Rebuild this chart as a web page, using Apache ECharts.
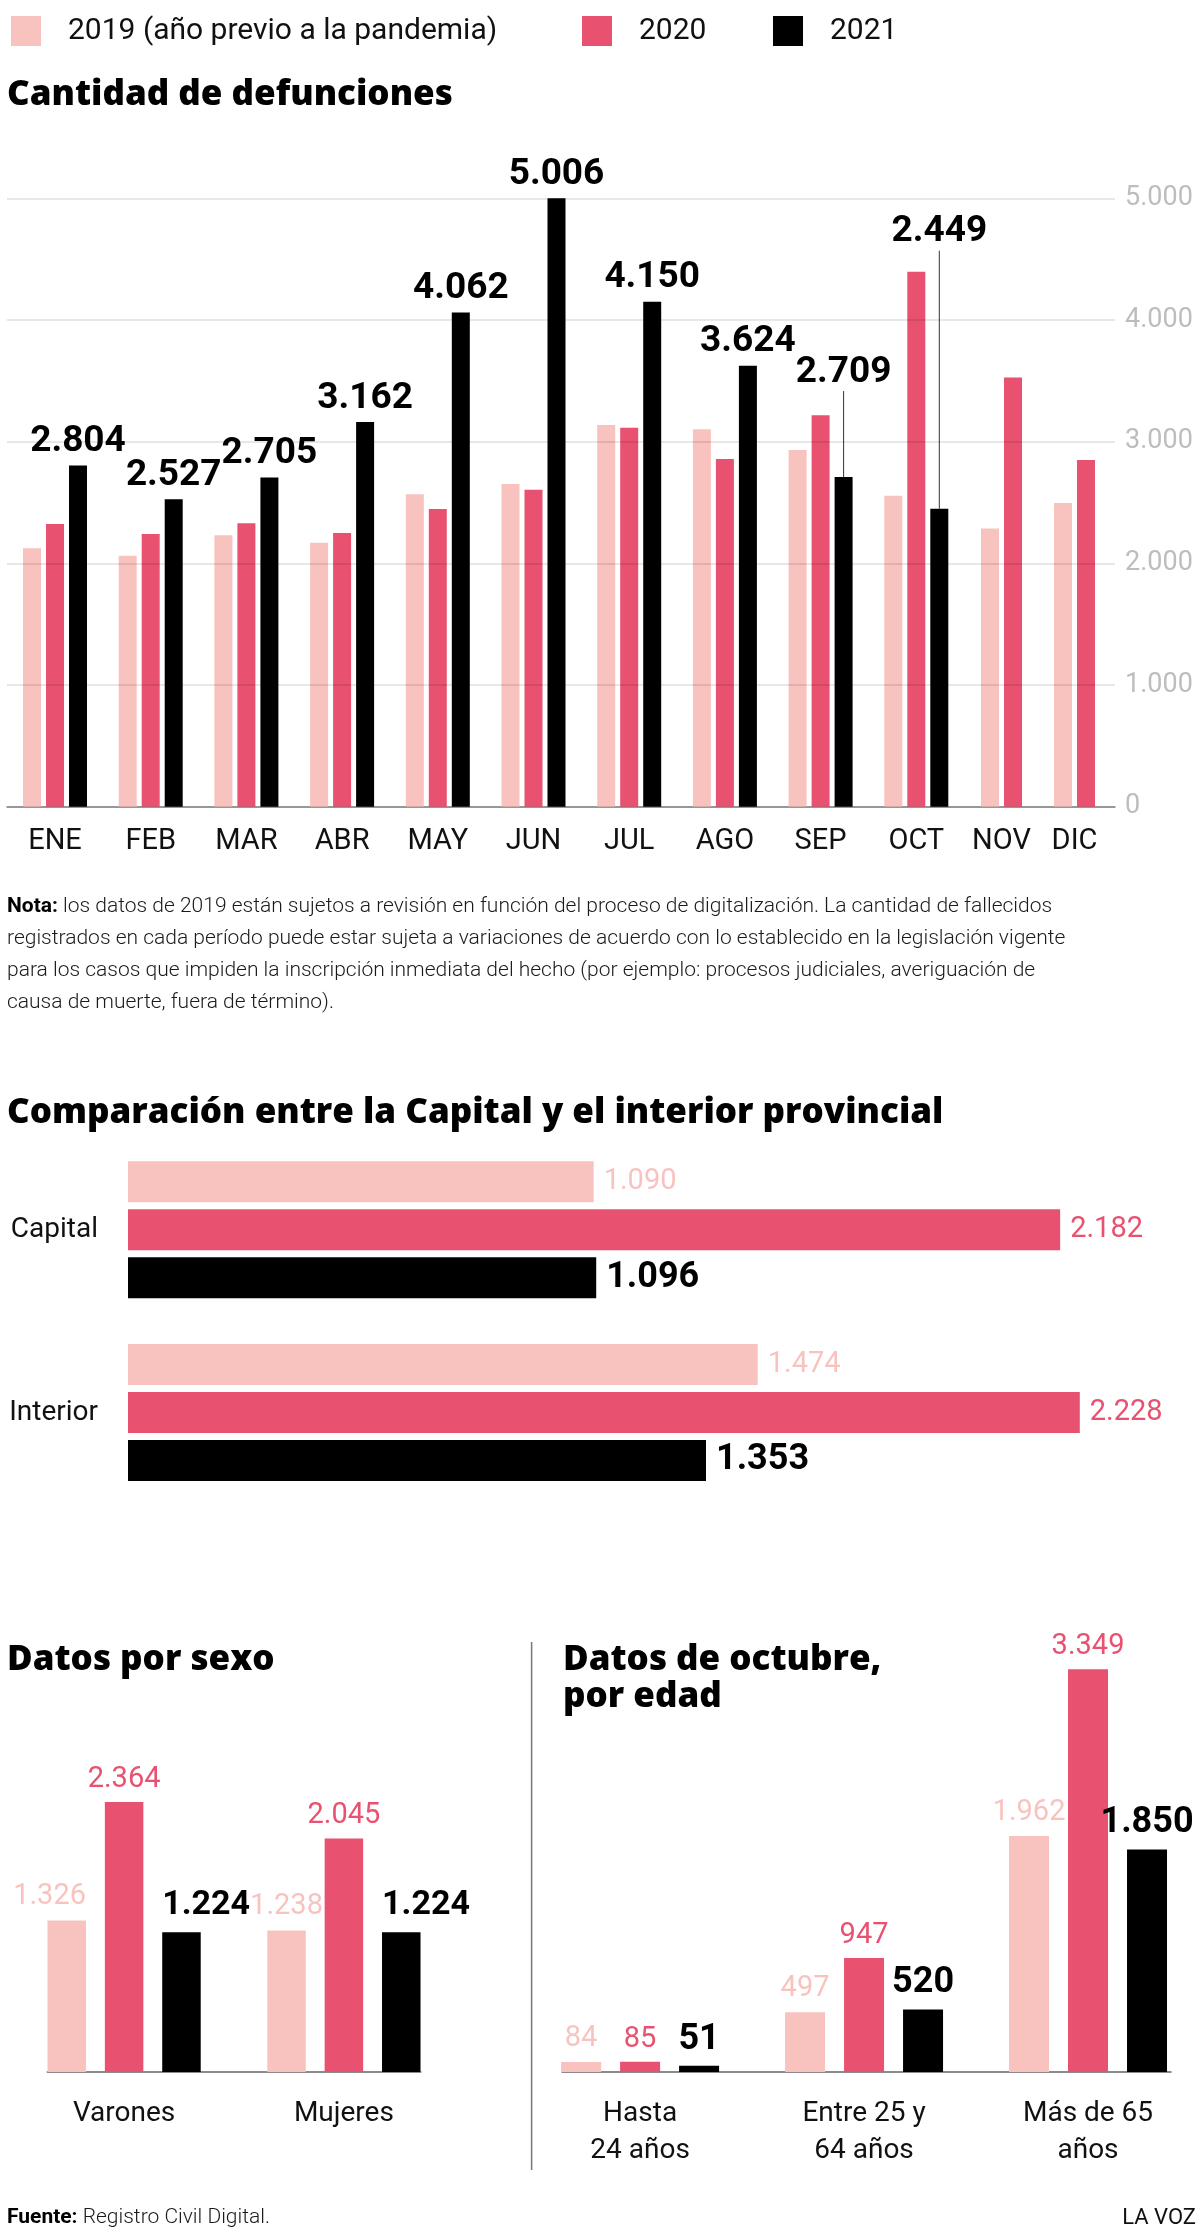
<!DOCTYPE html>
<html>
<head>
<meta charset="utf-8">
<script src="https://cdn.jsdelivr.net/npm/echarts@6/dist/echarts.min.js"></script>
<style>html,body{margin:0;padding:0;background:#fff}#c{width:1200px;height:2235px}</style>
</head>
<body>
<div id="c"></div>
<script>
// ---------- DATA ----------
const years = ['2019 (año previo a la pandemia)', '2020', '2021'];
const months = ['ENE','FEB','MAR','ABR','MAY','JUN','JUL','AGO','SEP','OCT','NOV','DIC'];
const deaths2019 = [2123, 2063, 2230, 2169, 2567, 2652, 3136, 3103, 2931, 2556, 2287, 2495];
const deaths2020 = [2323, 2241, 2329, 2249, 2446, 2605, 3114, 2857, 3218, 4396, 3528, 2849];
const deaths2021 = [2804, 2527, 2705, 3162, 4062, 5006, 4150, 3624, 2709, 2449, null, null];
const yTicks = [0, 1000, 2000, 3000, 4000, 5000];

const regions = ['Capital', 'Interior'];
const region2019 = [1090, 1474];
const region2020 = [2182, 2228];
const region2021 = [1096, 1353];

const sexes = ['Varones', 'Mujeres'];
const sex2019 = [1326, 1238];
const sex2020 = [2364, 2045];
const sex2021 = [1224, 1224];

const ages = ['Hasta\n24 años', 'Entre 25 y\n64 años', 'Más de 65\naños'];
const age2019 = [84, 497, 1962];
const age2020 = [85, 947, 3349];
const age2021 = [51, 520, 1850];

// ---------- STYLE ----------
const C19 = '#f8c3bf', C20 = '#e8516f', C21 = '#000000';
const FONT = 'Roboto, "Noto Sans", sans-serif';
const TFONT = '"Open Sans", Roboto, sans-serif';
const TSIZE = 35;
const fmt = v => String(v).replace(/\B(?=(\d{3})+(?!\d))/g, '.');
// raised labels with leader lines (month -> vertical shift in px)
const raisedLabels = { SEP: -81, OCT: -253 };

const idxA = months.map((m, i) => i).filter(i => deaths2021[i] != null);
const idxB = months.map((m, i) => i).filter(i => deaths2021[i] == null);
const pick = (arr, idx) => idx.map(i => arr[i]);
const monthsA = pick(months, idxA), monthsB = pick(months, idxB);

const MT = 198.3, MH = 608.4;

const lblLight = { show: true, fontFamily: FONT, fontSize: 29, color: C19, formatter: p => fmt(p.value) };
const lblRed = { show: true, fontFamily: FONT, fontSize: 29, color: C20, formatter: p => fmt(p.value) };
const lblBlack = { show: true, fontFamily: FONT, fontSize: 37, fontWeight: 'bold', color: '#000', formatter: p => fmt(p.value) };
const catLabel = { fontFamily: FONT, fontSize: 29, color: '#111', interval: 0 };
const hiddenVal = (g, max) => ({ gridIndex: g, type: 'value', min: 0, max: max, show: false });

const chart = echarts.init(document.getElementById('c'), null, { renderer: 'canvas' });

const option = {
  animation: false,
  textStyle: { fontFamily: FONT },
  legend: years.map((name, i) => ({
    data: [name], left: [6, 577, 768][i], top: 11, itemWidth: 30, itemHeight: 30, icon: 'rect',
    selectedMode: false,
    textStyle: { fontFamily: FONT, fontSize: 30, color: '#111', padding: [0, 0, 0, 22] }
  })),
  grid: [
    { left: 7, top: MT, width: 1108, height: MH },          // 0 main background
    { left: 7.15, top: MT, width: 957, height: MH },        // 1 main ENE-OCT
    { left: 965, top: MT, width: 146, height: MH },         // 2 main NOV-DIC
    { left: 128, top: 1138.3, width: 1068, height: 365.6 }, // 3 capital/interior
    { left: 14.2, top: 1786.5, width: 439.6, height: 285.5 }, // 4 sexo
    { left: 47.25, top: 2071, width: 373.5, height: 1 },    // 5 sexo baseline
    { left: 528.1, top: 1651, width: 676.8, height: 421 },  // 6 edad
    { left: 562, top: 2071, width: 609, height: 1 }         // 7 edad baseline
  ],
  xAxis: [
    { gridIndex: 0, type: 'value', min: 0, max: 1, axisLine: { show: true, onZero: false, lineStyle: { color: '#8a8a8a', width: 1.5 } },
      axisTick: { show: false }, axisLabel: { show: false }, splitLine: { show: false } },
    { gridIndex: 1, type: 'category', data: monthsA, axisLine: { show: false }, axisTick: { show: false }, axisLabel: { ...catLabel, margin: 21 } },
    { gridIndex: 2, type: 'category', data: monthsB, axisLine: { show: false }, axisTick: { show: false }, axisLabel: { ...catLabel, margin: 21 } },
    hiddenVal(3, 2500),
    { gridIndex: 4, type: 'category', data: sexes, axisLine: { show: false }, axisTick: { show: false }, axisLabel: { ...catLabel, fontSize: 28, margin: 23, lineHeight: 37 } },
    { gridIndex: 5, type: 'value', min: 0, max: 1, axisLine: { show: true, onZero: false, lineStyle: { color: '#666', width: 1.5 } },
      axisTick: { show: false }, axisLabel: { show: false }, splitLine: { show: false } },
    { gridIndex: 6, type: 'category', data: ages, axisLine: { show: false }, axisTick: { show: false }, axisLabel: { ...catLabel, fontSize: 28, margin: 23, lineHeight: 37 } },
    { gridIndex: 7, type: 'value', min: 0, max: 1, axisLine: { show: true, onZero: false, lineStyle: { color: '#666', width: 1.5 } },
      axisTick: { show: false }, axisLabel: { show: false }, splitLine: { show: false } }
  ],
  yAxis: [
    { gridIndex: 0, type: 'value', min: yTicks[0], max: yTicks[yTicks.length - 1], interval: yTicks[1] - yTicks[0], position: 'right', z: 3,
      axisLine: { show: false }, axisTick: { show: false },
      axisLabel: { margin: 10, fontFamily: FONT, fontSize: 27, color: '#bdbdbd', formatter: v => fmt(v) },
      splitLine: { show: true, lineStyle: { color: 'rgba(0,0,0,0.13)', width: 1.5 } } },
    hiddenVal(1, 5000),
    hiddenVal(2, 5000),
    { gridIndex: 3, type: 'category', data: regions, inverse: true, axisLine: { show: false }, axisTick: { show: false },
      axisLabel: { fontFamily: FONT, fontSize: 28, color: '#111', margin: 30 } },
    hiddenVal(4, 2500),
    { gridIndex: 5, type: 'value', show: false },
    hiddenVal(6, 3500),
    { gridIndex: 7, type: 'value', show: false }
  ],
  series: [
    // main chart ENE-OCT
    { type: 'bar', name: years[0], xAxisIndex: 1, yAxisIndex: 1, barWidth: 18, barGap: '27.8%', itemStyle: { color: C19 }, data: pick(deaths2019, idxA) },
    { type: 'bar', name: years[1], xAxisIndex: 1, yAxisIndex: 1, barWidth: 18, barGap: '27.8%', itemStyle: { color: C20 }, data: pick(deaths2020, idxA) },
    { type: 'bar', name: years[2], xAxisIndex: 1, yAxisIndex: 1, barWidth: 18, barGap: '27.8%', itemStyle: { color: C21 },
      data: pick(deaths2021, idxA).map((v, i) => raisedLabels[monthsA[i]] ? { value: v, labelLine: { show: true } } : v),
      label: { ...lblBlack, position: 'top', distance: 5 },
      labelLine: { show: false, lineStyle: { color: '#333', width: 1 } },
      labelLayout: p => { const d = raisedLabels[monthsA[p.dataIndex]]; return d ? { dy: d } : {}; } },
    // main chart NOV-DIC
    { type: 'bar', name: years[0], xAxisIndex: 2, yAxisIndex: 2, barWidth: 18, barGap: '27.8%', itemStyle: { color: C19 }, data: pick(deaths2019, idxB) },
    { type: 'bar', name: years[1], xAxisIndex: 2, yAxisIndex: 2, barWidth: 18, barGap: '27.8%', itemStyle: { color: C20 }, data: pick(deaths2020, idxB) },
    // capital / interior
    { type: 'bar', name: years[0], xAxisIndex: 3, yAxisIndex: 3, barWidth: 41, barGap: '17%', itemStyle: { color: C19 }, data: region2019,
      label: { ...lblLight, position: 'right', distance: 10 } },
    { type: 'bar', name: years[1], xAxisIndex: 3, yAxisIndex: 3, barWidth: 41, barGap: '17%', itemStyle: { color: C20 }, data: region2020,
      label: { ...lblRed, position: 'right', distance: 10 } },
    { type: 'bar', name: years[2], xAxisIndex: 3, yAxisIndex: 3, barWidth: 41, barGap: '17%', itemStyle: { color: C21 }, data: region2021,
      label: { ...lblBlack, fontSize: 36, position: 'right', distance: 10 } },
    // sexo
    { type: 'bar', name: years[0], xAxisIndex: 4, yAxisIndex: 4, barWidth: 38.5, barGap: '49%', itemStyle: { color: C19 }, data: sex2019,
      label: { ...lblLight, position: 'top', distance: 9 },
      labelLayout: p => sexes[p.dataIndex] === 'Varones' ? { dx: (p.rect.width - p.labelRect.width) / 2 } : {} },
    { type: 'bar', name: years[1], xAxisIndex: 4, yAxisIndex: 4, barWidth: 38.5, barGap: '49%', itemStyle: { color: C20 }, data: sex2020,
      label: { ...lblRed, position: 'top', distance: 8 } },
    { type: 'bar', name: years[2], xAxisIndex: 4, yAxisIndex: 4, barWidth: 38.5, barGap: '49%', itemStyle: { color: C21 }, data: sex2021,
      label: { ...lblBlack, fontSize: 34, position: 'top', distance: 10 },
      labelLayout: p => ({ dx: (p.labelRect.width - p.rect.width) / 2 }) },
    // edad
    { type: 'bar', name: years[0], xAxisIndex: 6, yAxisIndex: 6, barWidth: 40, barGap: '47.5%', itemStyle: { color: C19 }, data: age2019,
      label: { ...lblLight, position: 'top', distance: 9 } },
    { type: 'bar', name: years[1], xAxisIndex: 6, yAxisIndex: 6, barWidth: 40, barGap: '47.5%', itemStyle: { color: C20 }, data: age2020,
      label: { ...lblRed, position: 'top', distance: 8 } },
    { type: 'bar', name: years[2], xAxisIndex: 6, yAxisIndex: 6, barWidth: 40, barGap: '47.5%', itemStyle: { color: C21 }, data: age2021,
      label: { ...lblBlack, fontSize: 36, position: 'top', distance: 8 } }
  ],
  graphic: [
    { type: 'text', x: 7, y: 95, style: { text: 'Cantidad de defunciones', fontFamily: TFONT, fontWeight: 800, fontSize: TSIZE, fill: '#000', verticalAlign: 'middle' } },
    { type: 'text', x: 7, y: 891, style: {
      text: '{b|Nota:} los datos de 2019 están sujetos a revisión en función del proceso de digitalización. La cantidad de fallecidos\n' +
            'registrados en cada período puede estar sujeta a variaciones de acuerdo con lo establecido en la legislación vigente\n' +
            'para los casos que impiden la inscripción inmediata del hecho (por ejemplo: procesos judiciales, averiguación de\n' +
            'causa de muerte, fuera de término).',
      fontFamily: FONT, fontWeight: 300, fontSize: 21, fill: '#1a1a1a', lineHeight: 32, verticalAlign: 'top',
      rich: { b: { fontFamily: FONT, fontWeight: 'bold', fontSize: 21, fill: '#000', lineHeight: 32 } } } },
    { type: 'text', x: 7, y: 1113, style: { text: 'Comparación entre la Capital y el interior provincial', fontFamily: TFONT, fontWeight: 800, fontSize: TSIZE, fill: '#000', verticalAlign: 'middle' } },
    { type: 'text', x: 7, y: 1660, style: { text: 'Datos por sexo', fontFamily: TFONT, fontWeight: 800, fontSize: TSIZE, fill: '#000', verticalAlign: 'middle' } },
    { type: 'text', x: 563, y: 1642, style: { text: 'Datos de octubre,\npor edad', fontFamily: TFONT, fontWeight: 800, fontSize: TSIZE, lineHeight: 37, fill: '#000', verticalAlign: 'top' } },
    { type: 'line', shape: { x1: 531.6, y1: 1642, x2: 531.6, y2: 2170 }, style: { stroke: '#777', lineWidth: 1.5 } },
    { type: 'text', x: 7, y: 2218, style: { text: '{b|Fuente:} Registro Civil Digital.', fontFamily: FONT, fontWeight: 300, fontSize: 21, fill: '#1a1a1a', verticalAlign: 'middle',
      rich: { b: { fontFamily: FONT, fontWeight: 'bold', fontSize: 21, fill: '#000' } } } },
    { type: 'text', x: 1196, y: 2218, style: { text: 'LA VOZ', fontFamily: FONT, fontSize: 22, fill: '#111', align: 'right', verticalAlign: 'middle' } }
  ]
};
chart.setOption(option);
</script>
</body>
</html>
